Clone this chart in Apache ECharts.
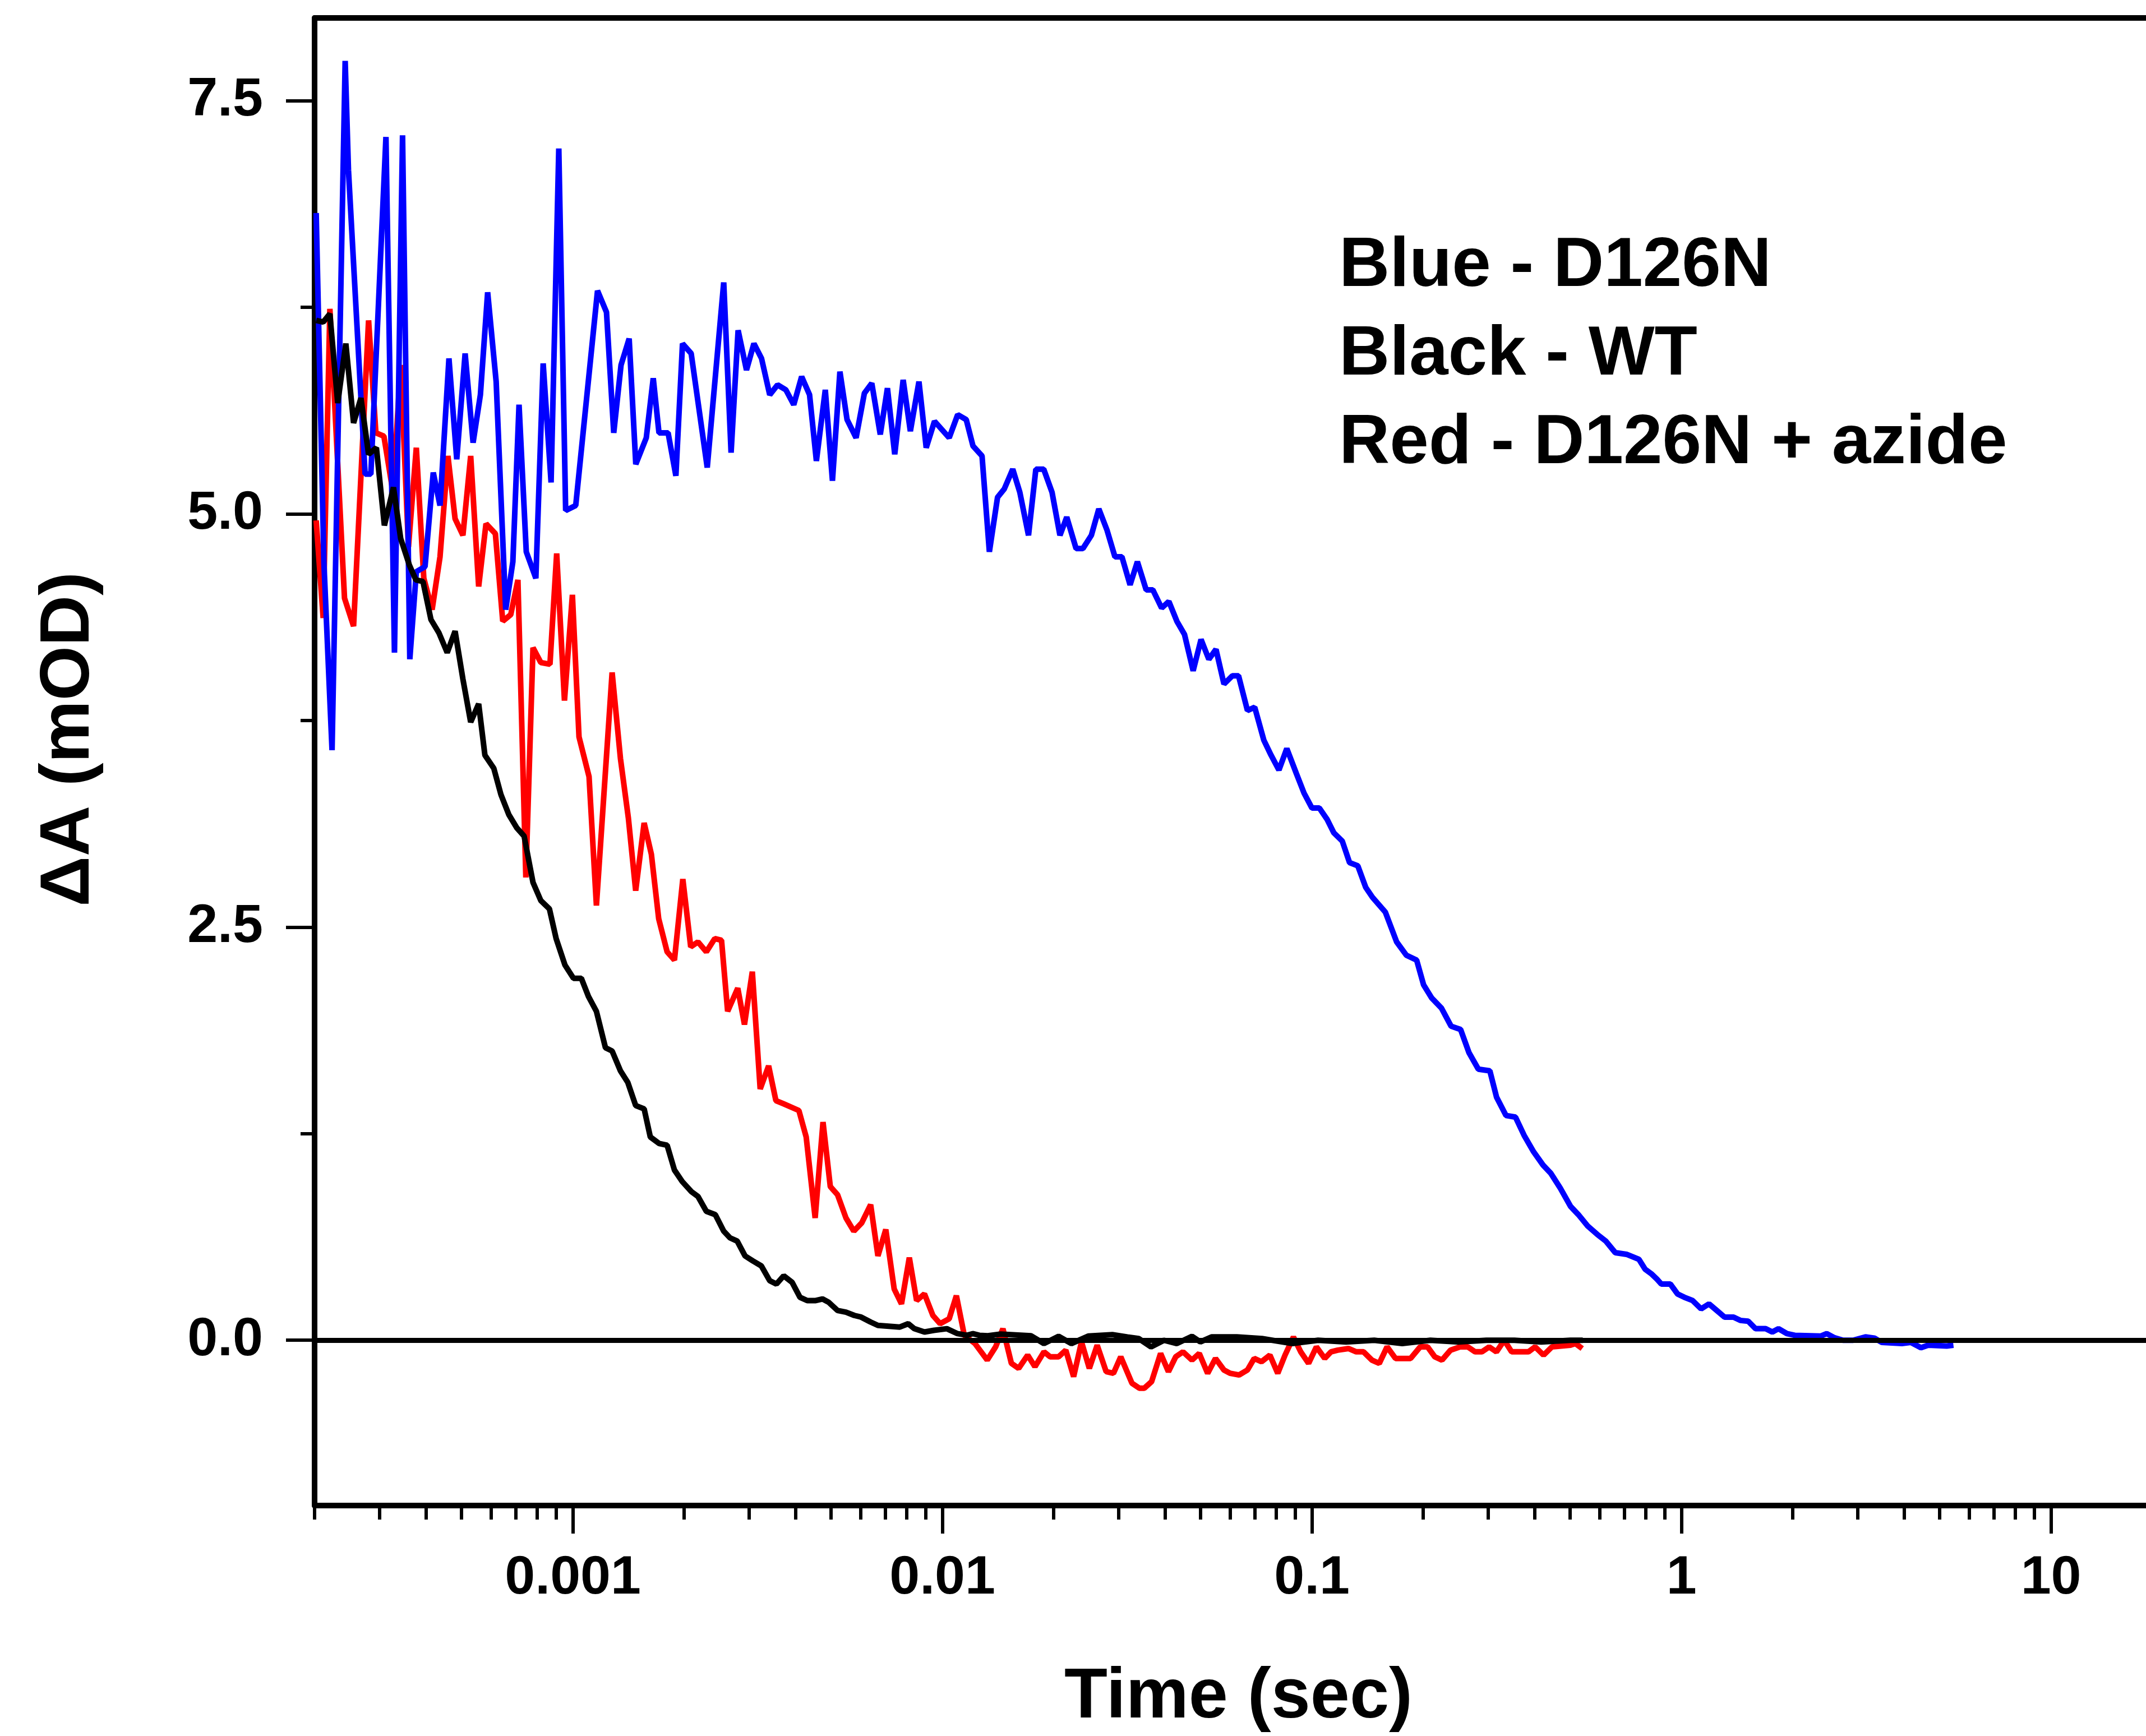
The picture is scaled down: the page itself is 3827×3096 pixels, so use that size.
<!DOCTYPE html>
<html>
<head>
<meta charset="utf-8">
<script src="https://cdn.jsdelivr.net/npm/echarts@6/dist/echarts.min.js"></script>
<style>
html,body{margin:0;padding:0;background:#fff;overflow:hidden;width:3827px;height:3096px;}
#chart{width:3856px;height:3096px;}
</style>
</head>
<body>
<div id="chart"></div>
<script>
// ---- tick values / labels ----
const xMajorTicks = [0.001, 0.01, 0.1, 1, 10];
const xMajorLabels = ['0.001', '0.01', '0.1', '1', '10'];
const xMinorTicks = [0.0002,0.0003,0.0004,0.0005,0.0006,0.0007,0.0008,0.0009,
  0.002,0.003,0.004,0.005,0.006,0.007,0.008,0.009,
  0.02,0.03,0.04,0.05,0.06,0.07,0.08,0.09,
  0.2,0.3,0.4,0.5,0.6,0.7,0.8,0.9,
  2,3,4,5,6,7,8,9,20];
const yMajorTicks = [0, 2.5, 5, 7.5];
const yMajorLabels = ['0.0', '2.5', '5.0', '7.5'];
const yMinorTicks = [1.25, 3.75, 6.25];
const legendLines = ['Blue - D126N', 'Black - WT', 'Red - D126N + azide'];

// ---- series data: [time (sec), dA (mOD)] ----
const blueD126N = [
[2.02e-4,6.82],[2.12e-4,4.7],[2.23e-4,3.57],[2.42e-4,7.74],[2.47e-4,7.08],[2.74e-4,5.24],[2.84e-4,5.24],
[3.12e-4,7.28],[3.29e-4,4.16],[3.46e-4,7.29],[3.62e-4,4.12],[3.77e-4,4.65],[3.98e-4,4.68],[4.19e-4,5.25],
[4.37e-4,5.05],[4.62e-4,5.94],[4.85e-4,5.33],[5.11e-4,5.97],[5.37e-4,5.43],[5.62e-4,5.72],[5.88e-4,6.34],
[6.20e-4,5.80],[6.58e-4,4.42],[6.88e-4,4.71],[7.15e-4,5.66],[7.48e-4,4.77],[7.94e-4,4.61],[8.31e-4,5.91],
[8.73e-4,5.19],[9.16e-4,7.21],[9.56e-4,5.02],[1.018e-3,5.05],[1.166e-3,6.35],[1.233e-3,6.22],[1.29e-3,5.49],
[1.35e-3,5.90],[1.42e-3,6.06],[1.48e-3,5.30],[1.58e-3,5.46],[1.65e-3,5.82],[1.71e-3,5.49],[1.81e-3,5.49],
[1.90e-3,5.23],[1.98e-3,6.03],[2.09e-3,5.97],[2.31e-3,5.28],[2.56e-3,6.40],[2.68e-3,5.37],[2.80e-3,6.11],
[2.95e-3,5.87],[3.09e-3,6.03],[3.24e-3,5.94],[3.41e-3,5.72],[3.58e-3,5.78],[3.77e-3,5.75],[3.96e-3,5.66],
[4.16e-3,5.83],[4.37e-3,5.72],[4.56e-3,5.32],[4.82e-3,5.75],[5.04e-3,5.20],[5.28e-3,5.86],[5.52e-3,5.57],
[5.84e-3,5.46],[6.15e-3,5.73],[6.44e-3,5.79],[6.79e-3,5.48],[7.10e-3,5.76],[7.43e-3,5.36],[7.83e-3,5.81],
[8.19e-3,5.50],[8.64e-3,5.80],[9.04e-3,5.40],[9.52e-3,5.56],[1.043e-2,5.46],[1.10e-2,5.60],[1.16e-2,5.57],
[1.21e-2,5.41],[1.28e-2,5.35],[1.34e-2,4.77],[1.41e-2,5.10],[1.47e-2,5.15],[1.55e-2,5.27],[1.62e-2,5.13],
[1.71e-2,4.87],[1.79e-2,5.27],[1.88e-2,5.27],[1.98e-2,5.13],[2.08e-2,4.87],[2.17e-2,4.98],[2.30e-2,4.79],
[2.40e-2,4.79],[2.53e-2,4.87],[2.65e-2,5.03],[2.79e-2,4.90],[2.93e-2,4.74],[3.06e-2,4.74],[3.22e-2,4.57],
[3.37e-2,4.71],[3.56e-2,4.54],[3.71e-2,4.54],[3.92e-2,4.43],[4.10e-2,4.47],[4.31e-2,4.35],[4.52e-2,4.27],
[4.77e-2,4.05],[5.01e-2,4.24],[5.26e-2,4.12],[5.50e-2,4.18],[5.78e-2,3.97],[6.09e-2,4.02],[6.33e-2,4.02],
[6.69e-2,3.81],[7.00e-2,3.83],[7.41e-2,3.63],[7.75e-2,3.54],[8.14e-2,3.45],[8.55e-2,3.58],[9.07e-2,3.43],
[9.52e-2,3.31],[0.1,3.22],[0.1047,3.22],[0.110,3.15],[0.1146,3.07],[0.1208,3.02],[0.1264,2.89],[0.1331,2.87],
[0.1398,2.74],[0.1458,2.68],[0.158,2.59],[0.1695,2.41],[0.180,2.33],[0.192,2.30],[0.2005,2.15],[0.211,2.07],
[0.224,2.01],[0.238,1.90],[0.2525,1.88],[0.266,1.74],[0.282,1.64],[0.303,1.63],[0.316,1.47],[0.335,1.36],
[0.3555,1.35],[0.375,1.24],[0.398,1.14],[0.422,1.06],[0.443,1.01],[0.470,0.92],[0.501,0.81],[0.526,0.76],
[0.558,0.69],[0.592,0.64],[0.624,0.60],[0.662,0.53],[0.710,0.52],[0.767,0.49],[0.797,0.43],[0.831,0.40],
[0.858,0.37],[0.882,0.34],[0.933,0.34],[0.976,0.28],[1.018,0.26],[1.072,0.24],[1.130,0.19],[1.187,0.22],
[1.246,0.18],[1.308,0.14],[1.383,0.14],[1.443,0.12],[1.515,0.115],[1.586,0.07],[1.689,0.07],[1.761,0.05],
[1.830,0.07],[1.929,0.04],[2.026,0.03],[2.379,0.025],[2.472,0.04],[2.596,0.015],[2.736,0.0],[2.913,0.0],
[3.146,0.02],[3.327,0.013],[3.482,-0.013],[3.948,-0.02],[4.175,-0.013],[4.447,-0.045],[4.653,-0.03],
[5.221,-0.035],[5.444,-0.03]
];

const blackWT = [
[2.02e-4,6.17],[2.11e-4,6.16],[2.20e-4,6.21],[2.31e-4,5.67],[2.43e-4,6.03],[2.55e-4,5.55],[2.67e-4,5.70],
[2.80e-4,5.36],[2.94e-4,5.40],[3.09e-4,4.93],[3.27e-4,5.16],[3.42e-4,4.85],[3.61e-4,4.69],[3.76e-4,4.60],
[3.93e-4,4.59],[4.13e-4,4.36],[4.34e-4,4.28],[4.57e-4,4.16],[4.80e-4,4.29],[5.04e-4,4.0],[5.29e-4,3.74],
[5.56e-4,3.85],[5.78e-4,3.54],[6.11e-4,3.46],[6.39e-4,3.30],[6.71e-4,3.18],[7.05e-4,3.10],[7.38e-4,3.05],
[7.80e-4,2.77],[8.19e-4,2.66],[8.64e-4,2.61],[9.01e-4,2.43],[9.52e-4,2.27],[1.0035e-3,2.19],[1.054e-3,2.19],
[1.102e-3,2.08],[1.158e-3,1.99],[1.225e-3,1.77],[1.277e-3,1.75],[1.345e-3,1.63],[1.408e-3,1.56],[1.479e-3,1.42],
[1.559e-3,1.40],[1.620e-3,1.23],[1.713e-3,1.19],[1.799e-3,1.18],[1.883e-3,1.03],[1.977e-3,0.96],[2.091e-3,0.90],
[2.180e-3,0.87],[2.297e-3,0.78],[2.429e-3,0.76],[2.560e-3,0.66],[2.660e-3,0.62],[2.784e-3,0.60],[2.924e-3,0.51],
[3.070e-3,0.48],[3.235e-3,0.45],[3.410e-3,0.36],[3.555e-3,0.34],[3.720e-3,0.39],[3.921e-3,0.35],[4.117e-3,0.26],
[4.309e-3,0.24],[4.541e-3,0.24],[4.735e-3,0.25],[4.920e-3,0.23],[5.203e-3,0.18],[5.483e-3,0.17],[5.778e-3,0.15],
[6.026e-3,0.14],[6.394e-3,0.11],[6.691e-3,0.09],[7.668e-3,0.08],[8.081e-3,0.10],[8.397e-3,0.07],[8.942e-3,0.05],
[9.490e-3,0.06],[1.028e-2,0.07],[1.099e-2,0.04],[1.166e-2,0.03],[1.208e-2,0.04],[1.259e-2,0.03],[1.327e-2,0.027],
[1.438e-2,0.037],[1.737e-2,0.027],[1.883e-2,-0.02],[2.062e-2,0.024],[2.234e-2,-0.02],[2.481e-2,0.025],
[2.883e-2,0.034],[3.168e-2,0.02],[3.398e-2,0.01],[3.669e-2,-0.04],[3.976e-2,0.0],[4.309e-2,-0.02],
[4.735e-2,0.024],[4.989e-2,-0.01],[5.350e-2,0.02],[6.261e-2,0.02],[7.328e-2,0.01],[8.849e-2,-0.02],
[0.1039,0.0],[0.1237,-0.01],[0.1474,0.0],[0.1755,-0.02],[0.2091,0.0],[0.2490,-0.01],[0.2965,0.0],
[0.3530,0.0],[0.4175,-0.01],[0.5006,0.0],[0.5406,0.0]
];

const redAzide = [
[2.02e-4,4.96],[2.11e-4,4.37],[2.20e-4,6.24],[2.41e-4,4.49],[2.55e-4,4.32],[2.80e-4,6.17],[2.93e-4,5.49],
[3.08e-4,5.47],[3.26e-4,5.13],[3.42e-4,5.90],[3.59e-4,4.80],[3.77e-4,5.40],[3.95e-4,4.61],[4.16e-4,4.42],
[4.37e-4,4.74],[4.59e-4,5.35],[4.80e-4,4.97],[5.04e-4,4.87],[5.29e-4,5.35],[5.56e-4,4.56],[5.82e-4,4.94],
[6.17e-4,4.88],[6.46e-4,4.35],[6.79e-4,4.39],[7.10e-4,4.60],[7.46e-4,2.80],[7.80e-4,4.19],[8.19e-4,4.10],
[8.67e-4,4.09],[9.04e-4,4.76],[9.49e-4,3.87],[9.97e-4,4.51],[1.039e-3,3.65],[1.106e-3,3.41],[1.158e-3,2.63],
[1.277e-3,4.04],[1.345e-3,3.52],[1.413e-3,3.16],[1.479e-3,2.72],[1.559e-3,3.13],[1.631e-3,2.94],[1.707e-3,2.55],
[1.799e-3,2.35],[1.883e-3,2.30],[1.984e-3,2.79],[2.084e-3,2.38],[2.180e-3,2.41],[2.297e-3,2.35],[2.421e-3,2.43],
[2.525e-3,2.42],[2.623e-3,1.99],[2.794e-3,2.13],[2.913e-3,1.91],[3.059e-3,2.23],[3.213e-3,1.52],[3.386e-3,1.66],
[3.543e-3,1.45],[3.720e-3,1.43],[4.089e-3,1.39],[4.279e-3,1.23],[4.525e-3,0.74],[4.752e-3,1.32],[4.973e-3,0.93],
[5.203e-3,0.88],[5.483e-3,0.74],[5.758e-3,0.66],[6.047e-3,0.71],[6.394e-3,0.82],[6.691e-3,0.51],[7.027e-3,0.67],
[7.405e-3,0.31],[7.749e-3,0.22],[8.137e-3,0.50],[8.515e-3,0.24],[8.942e-3,0.28],[9.424e-3,0.15],[9.861e-3,0.10],
[1.043e-2,0.13],[1.091e-2,0.27],[1.146e-2,0.03],[1.225e-2,-0.02],[1.322e-2,-0.12],[1.393e-2,-0.04],[1.458e-2,0.07],
[1.537e-2,-0.14],[1.608e-2,-0.17],[1.701e-2,-0.09],[1.780e-2,-0.16],[1.883e-2,-0.07],[1.956e-2,-0.10],
[2.062e-2,-0.10],[2.157e-2,-0.06],[2.265e-2,-0.22],[2.379e-2,-0.01],[2.498e-2,-0.17],[2.623e-2,-0.03],
[2.774e-2,-0.19],[2.903e-2,-0.20],[3.038e-2,-0.10],[3.258e-2,-0.26],[3.410e-2,-0.29],[3.518e-2,-0.29],
[3.682e-2,-0.25],[3.894e-2,-0.08],[4.089e-2,-0.19],[4.279e-2,-0.10],[4.478e-2,-0.07],[4.735e-2,-0.12],
[4.955e-2,-0.08],[5.221e-2,-0.20],[5.483e-2,-0.11],[5.778e-2,-0.18],[6.005e-2,-0.20],[6.350e-2,-0.21],
[6.691e-2,-0.18],[6.977e-2,-0.11],[7.302e-2,-0.13],[7.695e-2,-0.09],[8.081e-2,-0.20],[8.456e-2,-0.09],
[8.911e-2,0.02],[9.325e-2,-0.07],[9.793e-2,-0.14],[0.1028,-0.04],[0.1083,-0.11],[0.1126,-0.07],[0.1174,-0.06],
[0.1255,-0.05],[0.1318,-0.07],[0.1379,-0.07],[0.1453,-0.12],[0.1521,-0.14],[0.1597,-0.04],[0.1683,-0.11],
[0.1849,-0.11],[0.1963,-0.04],[0.2055,-0.04],[0.2150,-0.10],[0.2249,-0.12],[0.2370,-0.06],[0.2516,-0.04],
[0.2642,-0.04],[0.2764,-0.07],[0.2883,-0.07],[0.3017,-0.04],[0.3157,-0.07],[0.3315,0.0],[0.3470,-0.07],
[0.3853,-0.07],[0.4018,-0.04],[0.4234,-0.09],[0.4462,-0.04],[0.5006,-0.03],[0.5167,-0.02],[0.5387,-0.05]
];

const FONT = '"Liberation Sans", Arial, Helvetica, sans-serif';
const chart = echarts.init(document.getElementById('chart'), null, {renderer: 'canvas'});

const xMin = 0.0002, xMax = 20;
const baseLog = {type: 'log', logBase: 10, min: xMin, max: xMax, gridIndex: 0, splitLine: {show: false}, minorTick: {show: false}, minorSplitLine: {show: false}};

const option = {
  animation: false,
  backgroundColor: '#ffffff',
  grid: {left: 561, right: 0, top: 32, bottom: 408, containLabel: false, show: false},
  xAxis: [
    Object.assign({}, baseLog, {
      position: 'bottom',
      axisLine: {show: true, onZero: false, lineStyle: {color: '#000', width: 10}},
      axisTick: {show: true, inside: false, length: 50, customValues: xMajorTicks, lineStyle: {color: '#000', width: 6}},
      axisLabel: {show: true, customValues: xMajorTicks, margin: 82, color: '#000', fontSize: 97, fontWeight: 'bold', fontFamily: FONT,
        formatter: function (v) { for (let i = 0; i < xMajorTicks.length; i++) { if (Math.abs(v / xMajorTicks[i] - 1) < 1e-6) return xMajorLabels[i]; } return ''; }},
      name: 'Time (sec)', nameLocation: 'middle', nameGap: 280,
      nameTextStyle: {color: '#000', fontSize: 126, fontWeight: 'bold', fontFamily: FONT}
    }),
    Object.assign({}, baseLog, {
      position: 'bottom',
      axisLine: {show: false, onZero: false},
      axisTick: {show: true, inside: false, length: 25, customValues: xMinorTicks, lineStyle: {color: '#000', width: 6}},
      axisLabel: {show: false}
    }),
    Object.assign({}, baseLog, {
      position: 'top',
      axisLine: {show: true, onZero: false, lineStyle: {color: '#000', width: 10}},
      axisTick: {show: false},
      axisLabel: {show: false}
    })
  ],
  yAxis: [
    {
      type: 'value', min: -1, max: 8, position: 'left', gridIndex: 0,
      splitLine: {show: false},
      axisLine: {show: true, onZero: false, lineStyle: {color: '#000', width: 10}},
      axisTick: {show: true, inside: false, length: 51, customValues: yMajorTicks, lineStyle: {color: '#000', width: 6}},
      axisLabel: {show: true, customValues: yMajorTicks, margin: 92, color: '#000', fontSize: 97, fontWeight: 'bold', fontFamily: FONT,
        formatter: function (v) { for (let i = 0; i < yMajorTicks.length; i++) { if (Math.abs(v - yMajorTicks[i]) < 1e-6) return yMajorLabels[i]; } return ''; }},
      name: 'ΔA (mOD)', nameLocation: 'middle', nameGap: 375, nameRotate: 90,
      nameTextStyle: {color: '#000', fontSize: 125, fontWeight: 'bold', fontFamily: FONT, padding: [0, 0, 0, 80]}
    },
    {
      type: 'value', min: -1, max: 8, position: 'left', gridIndex: 0,
      splitLine: {show: false},
      axisLine: {show: false, onZero: false},
      axisTick: {show: true, inside: false, length: 25, customValues: yMinorTicks, lineStyle: {color: '#000', width: 6}},
      axisLabel: {show: false}
    }
  ],
  graphic: [{
    type: 'text', left: 2388, top: 397, z: 100,
    style: {text: legendLines.join('\n'), fill: '#000', font: 'bold 125px ' + FONT, lineHeight: 158}
  }],
  series: [
    {
      name: 'Red - D126N + azide', type: 'line', xAxisIndex: 0, yAxisIndex: 0, data: redAzide,
      showSymbol: false, symbol: 'none', z: 2, clip: true,
      lineStyle: {color: '#ff0000', width: 10},
      markLine: {silent: true, symbol: ['none', 'none'], label: {show: false},
        lineStyle: {color: '#000', width: 9, type: 'solid'}, data: [{yAxis: 0}]}
    },
    {
      name: 'Blue - D126N', type: 'line', xAxisIndex: 0, yAxisIndex: 0, data: blueD126N,
      showSymbol: false, symbol: 'none', z: 3, clip: true,
      lineStyle: {color: '#0000ff', width: 10}
    },
    {
      name: 'Black - WT', type: 'line', xAxisIndex: 0, yAxisIndex: 0, data: blackWT,
      showSymbol: false, symbol: 'none', z: 4, clip: true,
      lineStyle: {color: '#000000', width: 10}
    }
  ]
};
chart.setOption(option);
</script>
</body>
</html>
